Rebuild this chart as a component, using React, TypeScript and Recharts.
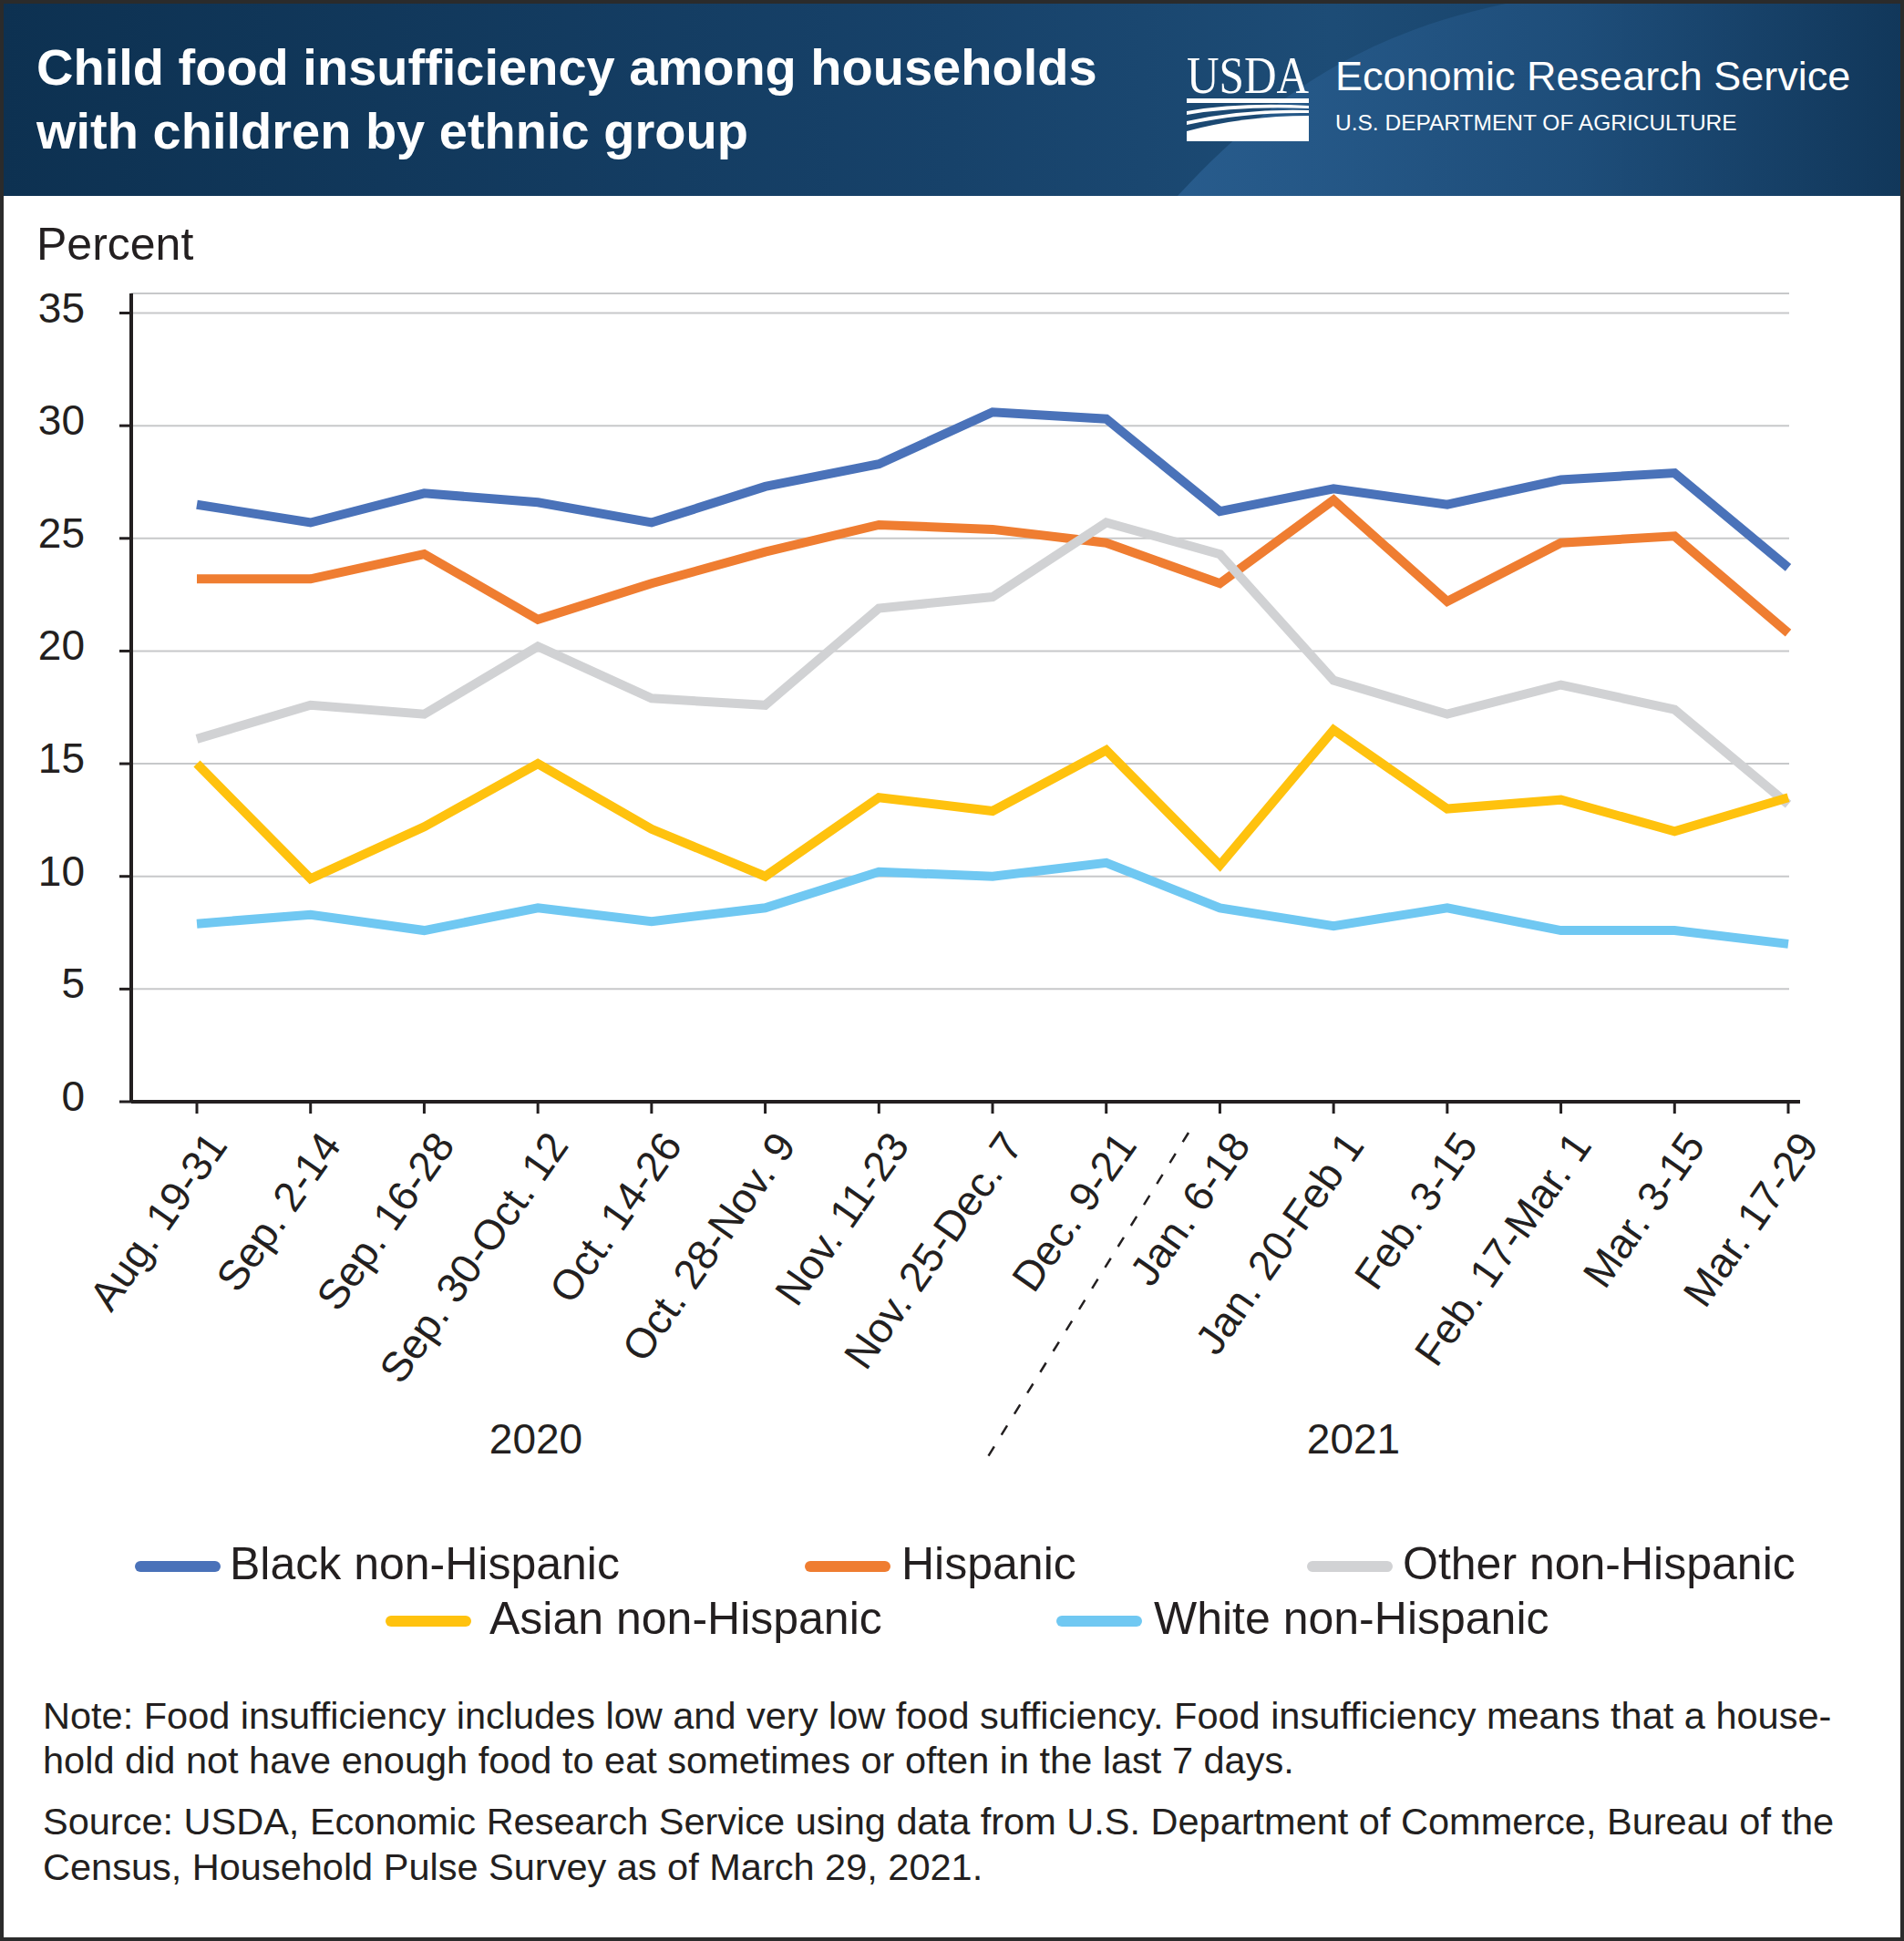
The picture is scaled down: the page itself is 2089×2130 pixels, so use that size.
import { LineChart, Line, XAxis, YAxis, CartesianGrid } from "recharts";

const periods = [
  "Aug. 19-31",
  "Sep. 2-14",
  "Sep. 16-28",
  "Sep. 30-Oct. 12",
  "Oct. 14-26",
  "Oct. 28-Nov. 9",
  "Nov. 11-23",
  "Nov. 25-Dec. 7",
  "Dec. 9-21",
  "Jan. 6-18",
  "Jan. 20-Feb 1",
  "Feb. 3-15",
  "Feb. 17-Mar. 1",
  "Mar. 3-15",
  "Mar. 17-29",
];

const blackNonHispanic = [26.5, 25.7, 27.0, 26.6, 25.7, 27.3, 28.3, 30.6, 30.3, 26.2, 27.2, 26.5, 27.6, 27.9, 23.7];
const hispanic = [23.2, 23.2, 24.3, 21.4, 23.0, 24.4, 25.6, 25.4, 24.8, 23.0, 26.7, 22.2, 24.8, 25.1, 20.8];
const otherNonHispanic = [16.1, 17.6, 17.2, 20.2, 17.9, 17.6, 21.9, 22.4, 25.7, 24.3, 18.7, 17.2, 18.5, 17.4, 13.2];
const asianNonHispanic = [15.0, 9.9, 12.2, 15.0, 12.1, 10.0, 13.5, 12.9, 15.6, 10.5, 16.5, 13.0, 13.4, 12.0, 13.5];
const whiteNonHispanic = [7.9, 8.3, 7.6, 8.6, 8.0, 8.6, 10.2, 10.0, 10.6, 8.6, 7.8, 8.6, 7.6, 7.6, 7.0];

const yTicks = [0, 5, 10, 15, 20, 25, 30, 35];
const years = ["2020", "2021"];

const series = [
  { key: "black", name: "Black non-Hispanic", color: "#4a72b9", values: blackNonHispanic },
  { key: "hispanic", name: "Hispanic", color: "#ef7d31", values: hispanic },
  { key: "other", name: "Other non-Hispanic", color: "#d1d2d4", values: otherNonHispanic },
  { key: "asian", name: "Asian non-Hispanic", color: "#ffc20e", values: asianNonHispanic },
  { key: "white", name: "White non-Hispanic", color: "#70c8f2", values: whiteNonHispanic },
];

const data = periods.map((period, i) => {
  const row: Record<string, string | number> = { period };
  series.forEach((s) => {
    row[s.key] = s.values[i];
  });
  return row;
});

// legend placement (swatch left, text left, row centre) per series
const legendSlots = [
  { x: 148, tx: 252, y: 1719 },
  { x: 883, tx: 989, y: 1719 },
  { x: 1434, tx: 1539, y: 1719 },
  { x: 423, tx: 537, y: 1779 },
  { x: 1159, tx: 1266, y: 1779 },
];

const FONT = "'Liberation Sans', Arial, Helvetica, sans-serif";
const INK = "#231f20";

const XTick = (props: any) => {
  const { x, y, payload } = props;
  const ax = x + 35;
  const ay = y + 33;
  return (
    <text
      x={ax}
      y={ay}
      transform={`rotate(-55, ${ax}, ${ay})`}
      textAnchor="end"
      fontSize={46}
      fontFamily={FONT}
      fill={INK}
    >
      {payload.value}
    </text>
  );
};

const YTick = (props: any) => {
  const { x, y, payload } = props;
  return (
    <text x={x} y={y} dy={10} textAnchor="end" fontSize={46} fontFamily={FONT} fill={INK}>
      {payload.value}
    </text>
  );
};

function Backdrop() {
  return (
    <svg width={2089} height={2130} style={{ position: "absolute", left: 0, top: 0 }}>
      <defs>
        <linearGradient id="band" x1="0" x2="1" y1="0" y2="0">
          <stop offset="0" stopColor="#0d3151" />
          <stop offset="0.5" stopColor="#17426a" />
          <stop offset="0.7" stopColor="#1d4c76" />
          <stop offset="1" stopColor="#12385c" />
        </linearGradient>
        <linearGradient id="swoosh" x1="0" x2="1" y1="0" y2="0">
          <stop offset="0" stopColor="#2a5f91" />
          <stop offset="0.55" stopColor="#1f4f7c" />
          <stop offset="1" stopColor="#11375a" />
        </linearGradient>
      </defs>
      <rect x={0} y={0} width={2089} height={2130} fill="#ffffff" />
      <rect x={0} y={0} width={2089} height={215} fill="url(#band)" />
      <path d="M1292,215 C1380,120 1480,40 1652,4 L2089,4 L2089,215 Z" fill="url(#swoosh)" opacity={0.85} />

      <text x={40} y={93} fontSize={56} fontWeight={700} fontFamily={FONT} fill="#ffffff">
        Child food insufficiency among households
      </text>
      <text x={40} y={163} fontSize={56} fontWeight={700} fontFamily={FONT} fill="#ffffff">
        with children by ethnic group
      </text>

      <text
        x={1302}
        y={102}
        fontSize={56}
        fontFamily="'Liberation Serif', 'DejaVu Serif', serif"
        fill="#ffffff"
        textLength={134}
        lengthAdjust="spacingAndGlyphs"
      >
        USDA
      </text>
      <rect x={1302} y={108} width={134} height={5} fill="#ffffff" />
      <path d="M1302,122 Q1360,112 1436,116 L1436,119 Q1360,116 1302,126 Z" fill="#ffffff" />
      <path d="M1302,133 Q1365,119 1436,121 L1436,124 Q1365,123 1302,137 Z" fill="#ffffff" />
      <path d="M1302,155 L1302,144 Q1365,127 1436,127 L1436,155 Z" fill="#ffffff" />

      <text x={1465} y={99} fontSize={45} fontFamily={FONT} fill="#ffffff">
        Economic Research Service
      </text>
      <text x={1465} y={143} fontSize={24.5} fontFamily={FONT} fill="#ffffff">
        U.S. DEPARTMENT OF AGRICULTURE
      </text>

      <text x={40} y={285} fontSize={50} fontFamily={FONT} fill={INK}>
        Percent
      </text>

      <line x1={1304} y1={1243} x2={1083} y2={1600} stroke={INK} strokeWidth={2.5} strokeDasharray="12 15" />
      <text x={588} y={1595} fontSize={46} textAnchor="middle" fontFamily={FONT} fill={INK}>
        {years[0]}
      </text>
      <text x={1485} y={1595} fontSize={46} textAnchor="middle" fontFamily={FONT} fill={INK}>
        {years[1]}
      </text>

      {series.map((s, i) => {
        const slot = legendSlots[i];
        return (
          <g key={s.key}>
            <line
              x1={slot.x + 6}
              x2={slot.x + 88}
              y1={slot.y}
              y2={slot.y}
              stroke={s.color}
              strokeWidth={12}
              strokeLinecap="round"
            />
            <text x={slot.tx} y={slot.y + 14} fontSize={50} fontFamily={FONT} fill={INK}>
              {s.name}
            </text>
          </g>
        );
      })}

      <g fontSize={41.5} fontFamily={FONT} fill={INK}>
        <text x={47} y={1897}>
          Note: Food insufficiency includes low and very low food sufficiency. Food insufficiency means that a house-
        </text>
        <text x={47} y={1946}>
          hold did not have enough food to eat sometimes or often in the last 7 days.
        </text>
        <text x={47} y={2013}>
          Source: USDA, Economic Research Service using data from U.S. Department of Commerce, Bureau of the
        </text>
        <text x={47} y={2063}>
          Census, Household Pulse Survey as of March 29, 2021.
        </text>
      </g>
    </svg>
  );
}

export default function App() {
  return (
    <div style={{ position: "absolute", left: 0, top: 0, width: 2089, height: 2130, overflow: "hidden", background: "#fff" }}>
      <Backdrop />
      <div style={{ position: "absolute", left: 0, top: 220 }}>
        <LineChart width={2089} height={1420} data={data} margin={{ top: 102, right: 114, bottom: 0, left: 0 }}>
          <CartesianGrid vertical={false} stroke="#c7c8ca" strokeWidth={2} width={1819} />
          <XAxis
            dataKey="period"
            interval={0}
            height={431}
            padding={{ left: 72, right: 13 }}
            axisLine={{ stroke: INK, strokeWidth: 4 }}
            tickLine={{ stroke: INK, strokeWidth: 3 }}
            tickSize={13}
            tickMargin={2}
            tick={<XTick />}
          />
          <YAxis
            width={144}
            domain={[0, 35.87]}
            ticks={yTicks}
            interval={0}
            axisLine={{ stroke: INK, strokeWidth: 4 }}
            tickLine={{ stroke: INK, strokeWidth: 3 }}
            tickSize={13}
            tickMargin={38}
            tick={<YTick />}
          />
          {series.map((s) => (
            <Line
              key={s.key}
              type="linear"
              dataKey={s.key}
              name={s.name}
              stroke={s.color}
              strokeWidth={10}
              strokeLinejoin="miter"
              strokeLinecap="butt"
              dot={false}
              activeDot={false}
              isAnimationActive={false}
            />
          ))}
        </LineChart>
      </div>
      <svg width={2089} height={2130} style={{ position: "absolute", left: 0, top: 0, pointerEvents: "none" }}>
        <rect x={2} y={2} width={2085} height={2126} fill="none" stroke="#2b2b2b" strokeWidth={4} />
      </svg>
    </div>
  );
}
